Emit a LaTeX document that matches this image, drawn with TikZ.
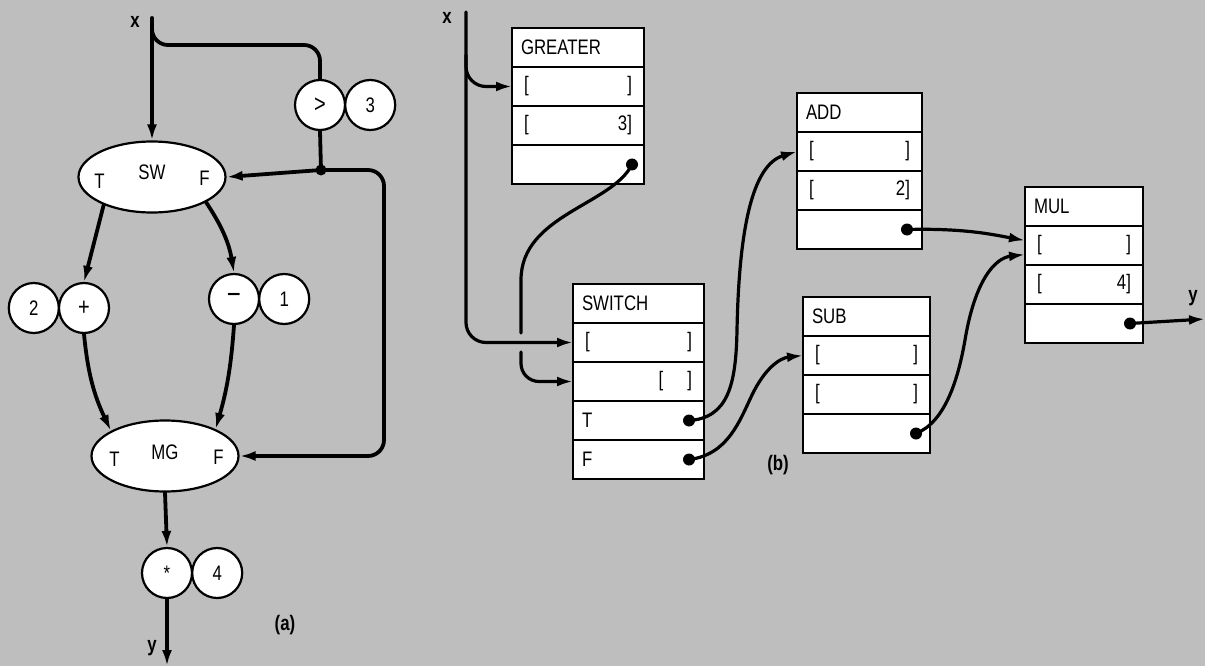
\documentclass[tikz,border=0pt]{standalone}
\usepackage{fontspec}
\setmainfont{Liberation Sans}[FakeStretch=0.8]
\usetikzlibrary{arrows.meta,positioning,shapes.geometric}
\definecolor{paper}{HTML}{BEBEBE}
\newcommand{\figfont}{\fontsize{21pt}{24pt}\selectfont}
\tikzset{
  wire/.style={line width=3.2pt,line cap=round,line join=round},
  fat wire/.style={wire,line width=3.8pt},
  ring/.style={circle,draw,fill=white,line width=2.2pt,minimum size=50pt,inner sep=0pt},
  oval/.style={ellipse,draw,fill=white,line width=2.2pt,minimum width=147pt,minimum height=71pt,inner sep=0pt},
  cell/.style={draw,fill=white,line width=2pt,outer sep=0pt,minimum height=39pt,inner xsep=9pt,inner ysep=0pt,anchor=north west,align=left,text width=#1},
  dot/.style={circle,fill,inner sep=0pt,minimum size=12pt},
  lbl/.style={font=\figfont\bfseries},
}
\newcommand{\brk}[1][]{\hbox to\hsize{\hspace{3pt}[\hfill#1]\hspace{3pt}}}
\newcommand{\brkr}{\hbox to\hsize{\hfill[\hspace{24pt}]\hspace{3pt}}}
% one operator record: name, top left corner, text width, title, rows
\newcommand{\opbox}[5]{%
  \node[cell=#3] (#1-0) at (#2) {#4};
  \foreach \rowtext [count=\i] in {#5} {
    \pgfmathtruncatemacro{\prev}{\i-1}
    \node[cell=#3,below=0pt of #1-\prev] (#1-\i) {\rowtext};
  }}

\begin{document}
\begin{tikzpicture}[x=1pt,y=-1pt,font=\figfont,>={Latex[length=16pt,width=10pt]}]
  \fill[paper] (0,0) rectangle (1205,666);
  \useasboundingbox (0,0) rectangle (1205,666);

  % (a) data flow graph
  \node[oval] (sw) at (152,177) {};
  \node (sw-n) at ([yshift=5pt]sw.center) {SW};
  \node (sw-t) at ([xshift=22pt,yshift=-4pt]sw.west) {T};
  \node (sw-f) at ([xshift=-22pt,yshift=-1pt]sw.east) {F};
  \node[ring] (cmp) at (320,105) {\fontsize{25pt}{25pt}\selectfont>};
  \node[ring,right=-2pt of cmp] (cmp-k) {3};
  \node[ring] (plus) at (84,308) {\fontsize{25pt}{25pt}\selectfont+};
  \node[ring,left=-2pt of plus] (plus-k) {2};
  \node[ring] (minus) at (234,299) {\fontsize{30pt}{30pt}\selectfont−};
  \node[ring,right=-2pt of minus] (minus-k) {1};
  \node[oval] (mg) at (165,456) {};
  \node (mg-n) at ([yshift=4pt]mg.center) {MG};
  \node (mg-t) at ([xshift=24pt,yshift=-3pt]mg.west) {T};
  \node (mg-f) at ([xshift=-21pt,yshift=-1pt]mg.east) {F};
  \node[ring] (times) at (167,573) {\raisebox{-5pt}{*}};
  \node[ring,right=-2pt of times] (times-k) {4};
  \node[dot,minimum size=11pt] (fork) at (321,170) {};

  \coordinate (xa) at (152,18);
  \coordinate (xa-tap) at (152,26);
  \coordinate (bend) at (320,45);
  \coordinate (loop) at (384,456);
  \coordinate (ya) at (167,666);

  \draw[fat wire,->] (xa) -- (sw.north);
  \draw[fat wire,rounded corners=16pt] (xa-tap) |- (bend) -- (cmp.north);
  \draw[fat wire] (cmp.south) -- (fork.center);
  \draw[fat wire,->] (fork.center) -- (sw.east);
  \draw[fat wire,->,rounded corners=16pt] (fork.center) -| (loop) -- (mg.east);
  \draw[fat wire,->] (sw.210) -- (plus.north);
  \draw[fat wire,->] (sw.335) to[bend left=12] (minus.north);
  \draw[fat wire,->] (plus.south) to[bend right=10] (mg.155);
  \draw[fat wire,->] (minus.south) to[bend left=6] (mg.28);
  \draw[fat wire,->] (mg.south) -- (times.north);
  \draw[fat wire,->] (times.south) -- (ya);

  \node[lbl] (xa-l) at (135,22) {x};
  \node[lbl] (ya-l) at (152,648) {y};
  \node[lbl] (cap-a) at (285,625) {(a)};

  % (b) operator records
  \opbox{greater}{512,28}{114pt}{GREATER}{\brk,\brk[3],{}}
  \opbox{switch}{573,284}{113pt}{SWITCH}{\brk,\brkr,T,F}
  \opbox{add}{797,93}{107pt}{ADD}{\brk,\brk[2],{}}
  \opbox{sub}{803,297}{109pt}{SUB}{\brk,\brk,{}}
  \opbox{mul}{1025,187}{100pt}{MUL}{\brk,\brk[4],{}}

  \node[dot] (greater-out) at ([xshift=-12pt]greater-3.east) {};
  \node[dot] (switch-t) at ([xshift=-15pt]switch-3.east) {};
  \node[dot] (switch-f) at ([xshift=-15pt]switch-4.east) {};
  \node[dot] (add-out) at ([xshift=-15pt]add-3.east) {};
  \node[dot] (sub-out) at ([xshift=-14pt]sub-3.east) {};
  \node[dot] (mul-out) at ([xshift=-13pt]mul-3.east) {};

  \coordinate (xb) at (466,12);
  \coordinate (xb-tap) at (466,55);
  \coordinate (hop-a) at (521,333);
  \coordinate (hop-b) at (521,352);
  \coordinate (yb) at (1205,319);

  \draw[wire,->,rounded corners=20pt] (xb-tap) |- (greater-1.west);
  \draw[wire,->,rounded corners=20pt] (xb) |- (switch-1.west);
  \draw[wire] (greater-out.center) .. controls (612,205) and (521,215) .. (521,280) -- (hop-a);
  \draw[wire,->,rounded corners=18pt] (hop-b) |- (switch-2.west);
  \draw[wire,->] (switch-t.center) .. controls (728,418) and (736,385) .. (737,330) .. controls (739,230) and (752,165) .. (add-1.west);
  \draw[wire,->] (switch-f.center) .. controls (728,455) and (740,420) .. (752,395) .. controls (765,368) and (780,358) .. (sub-1.west);
  \draw[wire,->] (add-out.center) .. controls (965,228) and (995,235) .. ([yshift=5pt]mul-1.west);
  \draw[wire,->] (sub-out.center) .. controls (945,422) and (958,380) .. (965,340) .. controls (975,280) and (995,258) .. ([yshift=-9pt]mul-1.west);
  \draw[wire,->] (mul-out.center) -- (yb);

  \node[lbl] (xb-l) at (447,18) {x};
  \node[lbl] (yb-l) at (1193,298) {y};
  \node[lbl] (cap-b) at (778,465) {(b)};
\end{tikzpicture}
\end{document}
